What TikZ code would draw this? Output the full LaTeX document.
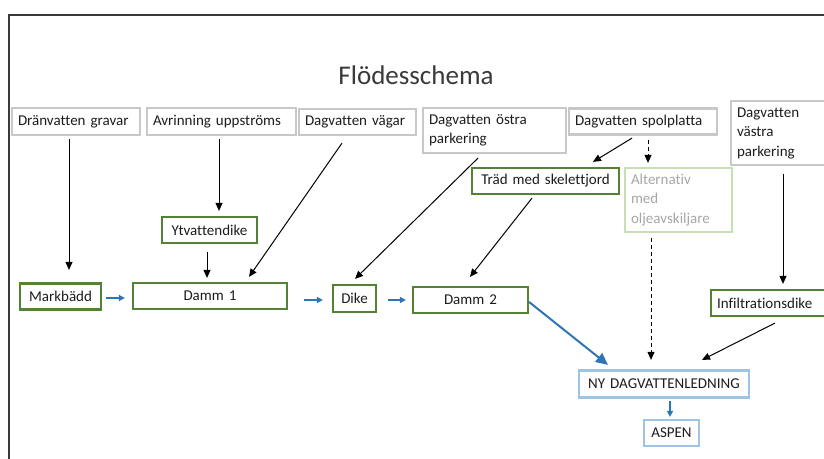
\documentclass[tikz,border=0pt]{standalone}
\usepackage{fontspec}
\setmainfont{Carlito}[Ligatures=NoCommon]
\usetikzlibrary{arrows.meta,calc}
\definecolor{srcgray}{RGB}{200,200,200}
\definecolor{dikegreen}{RGB}{84,130,53}
\definecolor{altgreen}{RGB}{197,224,180}
\definecolor{altgray}{RGB}{166,166,166}
\definecolor{flowblue}{RGB}{46,117,182}
\definecolor{lineblue}{RGB}{157,195,230}
\definecolor{txtgray}{RGB}{28,28,28}
\definecolor{framegray}{RGB}{58,58,58}

\begin{document}
\begin{tikzpicture}[x=1pt,y=-1pt,
    box/.style={draw,line width=2.2pt,inner xsep=6pt,inner ysep=0pt,text=txtgray,font=\fontsize{15}{19.5}\selectfont},
    srcbox/.style={box,draw=srcgray,align=left},
    grnbox/.style={box,draw=dikegreen,align=center},
    altbox/.style={box,draw=altgreen,text=altgray,align=left},
    pipebox/.style={box,draw=lineblue,align=center},
    feed/.style={line width=1pt,-{Triangle[length=8pt,width=7pt]}},
    alt/.style={feed,dash pattern=on 4pt off 3pt},
    flow/.style={draw=flowblue,line width=1.6pt,-{Triangle[length=6pt,width=6pt]}},
    bigflow/.style={draw=flowblue,line width=2pt,-{Triangle[length=12pt,width=11pt]}}]
        \useasboundingbox (0,0) rectangle (824,458);
        \clip (0,0) rectangle (824,458);
        \draw[framegray,line width=1.3pt] (9,470)--(9,15)--(840,15);
        \node[text=framegray,font=\fontsize{27}{30}\selectfont] (title) at (416,75) {Flödesschema};

        \node[srcbox,text width=116pt,minimum height=27pt] (grav) at (76,121.5) {Dränvatten gravar};
        \node[srcbox,text width=137pt,minimum height=27pt] (avr) at (221.5,121.5) {Avrinning uppströms};
        \node[srcbox,text width=105pt,minimum height=26pt] (vag) at (357.5,122) {Dagvatten vägar};
        \node[srcbox,text width=131pt,minimum height=45pt] (ostra) at (494.5,130.5) {Dagvatten östra\\parkering};
        \node[srcbox,text width=136pt,minimum height=26pt] (spol) at (643,121.5) {Dagvatten spolplatta};
        \node[srcbox,text width=108pt,minimum height=64pt] (vastra) at (791,133) {Dagvatten\\västra\\parkering};

        \node[grnbox,text width=83pt,minimum height=26pt] (ytv) at (209.5,230) {Ytvattendike};
        \node[grnbox,text width=69pt,minimum height=26pt] (mark) at (60.5,296.5) {Markbädd};
        \node[grnbox,text width=142pt,minimum height=26pt] (damm1) at (210,296) {Damm 1};
        \node[grnbox,text width=31pt,minimum height=27pt] (dike) at (354.5,298.5) {Dike};
        \node[grnbox,text width=103pt,minimum height=26pt] (damm2) at (470.5,300) {Damm 2};
        \node[grnbox,text width=135pt,minimum height=26pt] (trad) at (545.5,181) {Träd med skelettjord};
        \node[altbox,text width=95pt,minimum height=64pt] (alt) at (678.5,200) {Alternativ\\med\\oljeavskiljare};
        \node[grnbox,align=left,text width=112pt,minimum height=26pt] (infil) at (773,303) {Infiltrationsdike};

        \node[pipebox,text width=158pt,minimum height=27pt] (ny) at (664,384) {NY DAGVATTENLEDNING};
        \node[pipebox,text width=43pt,minimum height=26pt] (aspen) at (671.5,433) {ASPEN};

        \draw[feed] ($(grav.south)+(-7,3)$)--($(mark.north)+(8.5,-12.5)$);
        \draw[feed] ($(avr.south)+(-2.5,3)$)--($(ytv.north)+(9.5,-5)$);
        \draw[feed] ($(ytv.south)+(-2.5,8)$)--($(damm1.north)+(-3,-4)$);
        \draw[feed] ($(vag.south)+(-15.5,7)$)--($(damm1.north)+(39,-5)$);
        \draw[feed] ($(ostra.south)+(-16.5,4)$)--($(dike.north)+(0.5,-5)$);
        \draw[feed] ($(spol.south)+(-11,2.5)$)--($(trad.north)+(47.5,-5)$);
        \draw[alt] ($(spol.south)+(5,4.5)$)--($(alt.north)+(-30.5,-4)$);
        \draw[alt] ($(alt.south)+(-27.5,5)$)--($(ny.north)+(-13,-9.5)$);
        \draw[feed] ($(trad.south)+(-13.5,3)$)--($(damm2.north)+(-0.5,-9)$);
        \draw[feed] ($(vastra.south)+(-8,8)$)--($(infil.north)+(10,-5)$);
        \draw[feed] ($(infil.south)+(2,6)$)--($(ny.north)+(38,-9.5)$);

        \draw[flow] ($(mark.east)+(4,1.5)$)--($(damm1.west)+(-7,2)$);
        \draw[flow] ($(damm1.east)+(16,4)$)--($(dike.west)+(-9,1.5)$);
        \draw[flow] ($(dike.east)+(11,1.5)$)--($(damm2.west)+(-6,0)$);
        \draw[bigflow] ($(damm2.east)+(0,2)$)--($(ny.north)+(-56,-4.5)$);
        \draw[flow] ($(ny.south)+(6,2.5)$)--($(aspen.north)+(-1.5,-2)$);
    \end{tikzpicture}
\end{document}
